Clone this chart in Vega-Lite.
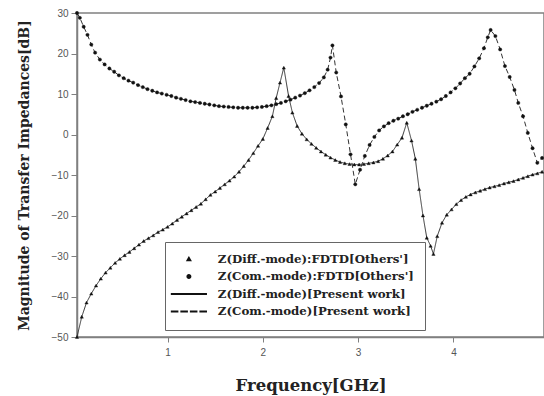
{
  "$schema": "https://vega.github.io/schema/vega-lite/v6.json",
  "width": 467,
  "height": 324,
  "autosize": {"type": "none"},
  "padding": {"left": 77, "top": 13, "right": 0, "bottom": 59},
  "background": "white",
  "config": {
    "view": {"stroke": "#808080", "strokeWidth": 1.5},
    "axis": {"grid": false, "domainColor": "#808080", "domainWidth": 1.5, "tickColor": "#808080", "tickWidth": 1, "labelFont": "Liberation Sans", "labelFontSize": 10, "labelColor": "#555555", "labelFlush": false, "labelOverlap": false, "titleFont": "DejaVu Serif", "titleFontWeight": "bold", "titleColor": "#222222"}
  },
  "data": {"values": [
    {"f":0.05,"v":-50,"m":"D"},{"f":0.1,"v":-45,"m":"D"},{"f":0.15,"v":-41.5,"m":"D"},{"f":0.2,"v":-39.3,"m":"D"},{"f":0.25,"v":-37.3,"m":"D"},{"f":0.3,"v":-35.6,"m":"D"},{"f":0.35,"v":-34.1,"m":"D"},{"f":0.4,"v":-32.9,"m":"D"},{"f":0.45,"v":-31.7,"m":"D"},{"f":0.5,"v":-30.7,"m":"D"},{"f":0.55,"v":-29.8,"m":"D"},{"f":0.6,"v":-29,"m":"D"},{"f":0.65,"v":-28.1,"m":"D"},{"f":0.7,"v":-27.2,"m":"D"},{"f":0.75,"v":-26.3,"m":"D"},{"f":0.8,"v":-25.6,"m":"D"},{"f":0.85,"v":-24.9,"m":"D"},{"f":0.9,"v":-24.1,"m":"D"},{"f":0.95,"v":-23.5,"m":"D"},{"f":1.0,"v":-22.8,"m":"D"},{"f":1.05,"v":-22,"m":"D"},{"f":1.1,"v":-21.1,"m":"D"},{"f":1.15,"v":-20.3,"m":"D"},{"f":1.2,"v":-19.5,"m":"D"},{"f":1.25,"v":-18.7,"m":"D"},{"f":1.3,"v":-17.9,"m":"D"},{"f":1.35,"v":-17.1,"m":"D"},{"f":1.4,"v":-16,"m":"D"},{"f":1.45,"v":-14.9,"m":"D"},{"f":1.5,"v":-14.1,"m":"D"},{"f":1.55,"v":-13.2,"m":"D"},{"f":1.6,"v":-12.3,"m":"D"},{"f":1.65,"v":-11.4,"m":"D"},{"f":1.7,"v":-10.4,"m":"D"},{"f":1.75,"v":-9.2,"m":"D"},{"f":1.8,"v":-7.8,"m":"D"},{"f":1.85,"v":-6.3,"m":"D"},{"f":1.9,"v":-4.6,"m":"D"},{"f":1.95,"v":-2.8,"m":"D"},{"f":2.0,"v":-1.1,"m":"D"},{"f":2.05,"v":1.6,"m":"D"},{"f":2.1,"v":4.5,"m":"D"},{"f":2.14,"v":9,"m":"D"},{"f":2.18,"v":12.8,"m":"D"},{"f":2.22,"v":16.5,"m":"D"},{"f":2.27,"v":9.5,"m":"D"},{"f":2.31,"v":5.4,"m":"D"},{"f":2.36,"v":2.1,"m":"D"},{"f":2.41,"v":0.2,"m":"D"},{"f":2.46,"v":-1.2,"m":"D"},{"f":2.51,"v":-2.3,"m":"D"},{"f":2.56,"v":-3.3,"m":"D"},{"f":2.61,"v":-4.2,"m":"D"},{"f":2.66,"v":-5,"m":"D"},{"f":2.71,"v":-5.7,"m":"D"},{"f":2.76,"v":-6.3,"m":"D"},{"f":2.81,"v":-6.8,"m":"D"},{"f":2.86,"v":-7.1,"m":"D"},{"f":2.91,"v":-7.3,"m":"D"},{"f":2.96,"v":-7.4,"m":"D"},{"f":3.01,"v":-7.4,"m":"D"},{"f":3.06,"v":-7.3,"m":"D"},{"f":3.11,"v":-7.1,"m":"D"},{"f":3.16,"v":-6.9,"m":"D"},{"f":3.21,"v":-6.6,"m":"D"},{"f":3.26,"v":-6,"m":"D"},{"f":3.31,"v":-5.2,"m":"D"},{"f":3.36,"v":-4.2,"m":"D"},{"f":3.41,"v":-2.5,"m":"D"},{"f":3.46,"v":-0.8,"m":"D"},{"f":3.51,"v":2.9,"m":"D"},{"f":3.56,"v":-1.5,"m":"D"},{"f":3.6,"v":-6,"m":"D"},{"f":3.64,"v":-13.5,"m":"D"},{"f":3.68,"v":-20,"m":"D"},{"f":3.72,"v":-25.5,"m":"D"},{"f":3.76,"v":-27.5,"m":"D"},{"f":3.79,"v":-29.5,"m":"D"},{"f":3.83,"v":-25.1,"m":"D"},{"f":3.88,"v":-21.8,"m":"D"},{"f":3.93,"v":-19.8,"m":"D"},{"f":3.98,"v":-18.5,"m":"D"},{"f":4.03,"v":-17.2,"m":"D"},{"f":4.08,"v":-16.2,"m":"D"},{"f":4.13,"v":-15.4,"m":"D"},{"f":4.18,"v":-14.8,"m":"D"},{"f":4.23,"v":-14.3,"m":"D"},{"f":4.28,"v":-13.9,"m":"D"},{"f":4.33,"v":-13.5,"m":"D"},{"f":4.38,"v":-13.1,"m":"D"},{"f":4.43,"v":-12.8,"m":"D"},{"f":4.48,"v":-12.5,"m":"D"},{"f":4.53,"v":-12.1,"m":"D"},{"f":4.58,"v":-11.8,"m":"D"},{"f":4.63,"v":-11.5,"m":"D"},{"f":4.68,"v":-11.1,"m":"D"},{"f":4.73,"v":-10.7,"m":"D"},{"f":4.78,"v":-10.3,"m":"D"},{"f":4.83,"v":-9.9,"m":"D"},{"f":4.88,"v":-9.6,"m":"D"},{"f":4.93,"v":-9.2,"m":"D"},
    {"f":0.05,"v":30,"m":"C"},{"f":0.08,"v":28.8,"m":"C"},{"f":0.12,"v":26.6,"m":"C"},{"f":0.16,"v":24.6,"m":"C"},{"f":0.2,"v":22.2,"m":"C"},{"f":0.24,"v":20.2,"m":"C"},{"f":0.29,"v":18.5,"m":"C"},{"f":0.34,"v":17.3,"m":"C"},{"f":0.39,"v":16.3,"m":"C"},{"f":0.44,"v":15.5,"m":"C"},{"f":0.49,"v":14.6,"m":"C"},{"f":0.54,"v":13.9,"m":"C"},{"f":0.59,"v":13.3,"m":"C"},{"f":0.64,"v":12.8,"m":"C"},{"f":0.69,"v":12.2,"m":"C"},{"f":0.74,"v":11.7,"m":"C"},{"f":0.79,"v":11.2,"m":"C"},{"f":0.84,"v":10.8,"m":"C"},{"f":0.89,"v":10.4,"m":"C"},{"f":0.94,"v":10.1,"m":"C"},{"f":0.99,"v":9.8,"m":"C"},{"f":1.04,"v":9.5,"m":"C"},{"f":1.09,"v":9.1,"m":"C"},{"f":1.14,"v":8.8,"m":"C"},{"f":1.19,"v":8.5,"m":"C"},{"f":1.24,"v":8.2,"m":"C"},{"f":1.29,"v":8,"m":"C"},{"f":1.34,"v":7.8,"m":"C"},{"f":1.39,"v":7.6,"m":"C"},{"f":1.44,"v":7.4,"m":"C"},{"f":1.49,"v":7.2,"m":"C"},{"f":1.54,"v":7,"m":"C"},{"f":1.59,"v":6.9,"m":"C"},{"f":1.64,"v":6.8,"m":"C"},{"f":1.69,"v":6.7,"m":"C"},{"f":1.74,"v":6.6,"m":"C"},{"f":1.79,"v":6.6,"m":"C"},{"f":1.84,"v":6.6,"m":"C"},{"f":1.89,"v":6.6,"m":"C"},{"f":1.94,"v":6.7,"m":"C"},{"f":1.99,"v":6.8,"m":"C"},{"f":2.04,"v":7,"m":"C"},{"f":2.09,"v":7.2,"m":"C"},{"f":2.14,"v":7.5,"m":"C"},{"f":2.19,"v":7.8,"m":"C"},{"f":2.24,"v":8.2,"m":"C"},{"f":2.29,"v":8.6,"m":"C"},{"f":2.34,"v":9.1,"m":"C"},{"f":2.39,"v":9.6,"m":"C"},{"f":2.44,"v":10.2,"m":"C"},{"f":2.49,"v":10.9,"m":"C"},{"f":2.54,"v":11.7,"m":"C"},{"f":2.59,"v":12.7,"m":"C"},{"f":2.64,"v":14.1,"m":"C"},{"f":2.68,"v":16,"m":"C"},{"f":2.71,"v":19,"m":"C"},{"f":2.73,"v":22,"m":"C"},{"f":2.77,"v":15.3,"m":"C"},{"f":2.82,"v":9.4,"m":"C"},{"f":2.87,"v":2.5,"m":"C"},{"f":2.92,"v":-4.9,"m":"C"},{"f":2.97,"v":-12.3,"m":"C"},{"f":3.02,"v":-8.7,"m":"C"},{"f":3.07,"v":-5.3,"m":"C"},{"f":3.12,"v":-2.6,"m":"C"},{"f":3.17,"v":-0.6,"m":"C"},{"f":3.22,"v":1,"m":"C"},{"f":3.27,"v":2,"m":"C"},{"f":3.32,"v":2.8,"m":"C"},{"f":3.37,"v":3.4,"m":"C"},{"f":3.42,"v":3.9,"m":"C"},{"f":3.47,"v":4.5,"m":"C"},{"f":3.52,"v":5,"m":"C"},{"f":3.57,"v":5.6,"m":"C"},{"f":3.62,"v":6.1,"m":"C"},{"f":3.67,"v":6.6,"m":"C"},{"f":3.72,"v":7.1,"m":"C"},{"f":3.77,"v":7.6,"m":"C"},{"f":3.82,"v":8.1,"m":"C"},{"f":3.87,"v":8.7,"m":"C"},{"f":3.92,"v":9.5,"m":"C"},{"f":3.97,"v":10.4,"m":"C"},{"f":4.02,"v":11.4,"m":"C"},{"f":4.07,"v":12.6,"m":"C"},{"f":4.12,"v":13.9,"m":"C"},{"f":4.17,"v":15,"m":"C"},{"f":4.22,"v":16.8,"m":"C"},{"f":4.27,"v":18.8,"m":"C"},{"f":4.32,"v":21.3,"m":"C"},{"f":4.36,"v":24,"m":"C"},{"f":4.39,"v":25.8,"m":"C"},{"f":4.44,"v":24.3,"m":"C"},{"f":4.49,"v":21,"m":"C"},{"f":4.54,"v":16.9,"m":"C"},{"f":4.59,"v":14.2,"m":"C"},{"f":4.64,"v":11,"m":"C"},{"f":4.68,"v":7.8,"m":"C"},{"f":4.73,"v":4.5,"m":"C"},{"f":4.78,"v":0.4,"m":"C"},{"f":4.83,"v":-3.4,"m":"C"},{"f":4.88,"v":-7,"m":"C"},{"f":4.93,"v":-5.8,"m":"C"}
  ]},
  "transform": [
    {"lookup": "m", "from": {"data": {"values": [
      {"m": "D", "p": "Z(Diff.-mode):FDTD[Others']", "l": "Z(Diff.-mode)[Present work]"},
      {"m": "C", "p": "Z(Com.-mode):FDTD[Others']", "l": "Z(Com.-mode)[Present work]"}
    ]}, "key": "m", "fields": ["p", "l"]}}
  ],
  "encoding": {
    "x": {"field": "f", "type": "quantitative", "scale": {"domain": [0.05, 4.95], "nice": false, "zero": false},
      "axis": {"values": [1, 2, 3, 4], "tickSize": 5, "labelPadding": 5, "title": "Frequency[GHz]", "titleFontSize": 16.5, "titleBaseline": "middle", "titleY": 48}},
    "y": {"field": "v", "type": "quantitative", "scale": {"domain": [-50, 30], "nice": false, "zero": false},
      "axis": {"values": [-50, -40, -30, -20, -10, 0, 10, 20, 30], "tickSize": 6, "labelPadding": 3, "title": "Magnitude of Transfer Impedances[dB]", "titleFontSize": 14, "titleBaseline": "middle", "titleX": -53, "titleY": 162, "titleAngle": -90}}
  },
  "layer": [
    {
      "mark": {"type": "line", "color": "#333333", "strokeWidth": 1},
      "encoding": {
        "strokeDash": {"field": "l", "type": "nominal",
          "scale": {"domain": ["Z(Diff.-mode)[Present work]", "Z(Com.-mode)[Present work]"], "range": [[1, 0], [5, 3]]},
          "legend": null}
      }
    },
    {
      "mark": {"type": "point", "filled": true, "color": "#111111", "stroke": "#111111", "strokeWidth": 0.4, "size": 11, "opacity": 1},
      "encoding": {
        "shape": {"field": "p", "type": "nominal",
          "scale": {"domain": ["Z(Diff.-mode):FDTD[Others']", "Z(Com.-mode):FDTD[Others']", "Z(Diff.-mode)[Present work]", "Z(Com.-mode)[Present work]"], "range": ["triangle-up", "circle", "M-10,-0.15H10V0.15H-10Z", "M-10,-0.15H-6.5V0.15H-10Z M-4.5,-0.15H-1V0.15H-4.5Z M1,-0.15H4.5V0.15H1Z M6.5,-0.15H10V0.15H6.5Z"]},
          "legend": {"title": null, "orient": "none", "legendX": 88, "legendY": 229, "padding": 11, "strokeColor": "#666666", "fillColor": "white", "labelFont": "DejaVu Serif", "labelFontWeight": "bold", "labelFontSize": 11.8, "labelColor": "#222222", "labelLimit": 400, "rowPadding": 4.5, "symbolOffset": 7, "labelOffset": 23, "symbolSize": 12}}
      }
    }
  ]
}
